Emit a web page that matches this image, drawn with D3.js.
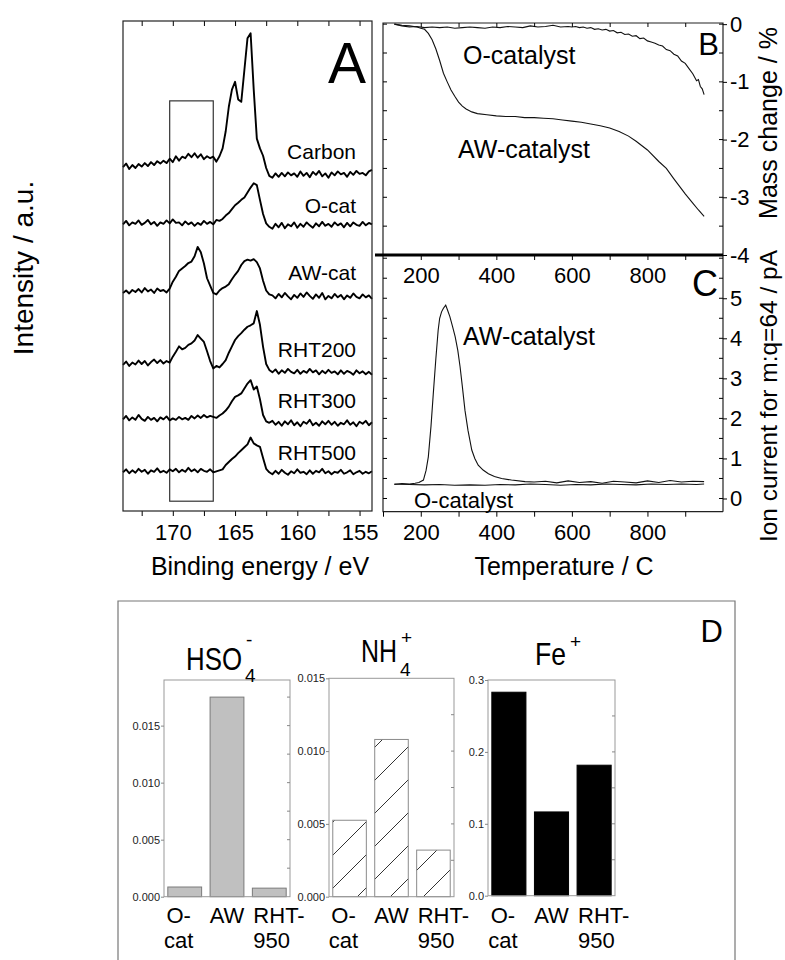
<!DOCTYPE html>
<html>
<head>
<meta charset="utf-8">
<script src="https://cdn.jsdelivr.net/npm/d3@7"></script>
<style>
  body { margin: 0; background: #fff; }
  svg { display: block; }
  text { font-family: "Liberation Sans", Arial, Helvetica, sans-serif; }
</style>
</head>
<body>
<svg id="fig" width="785" height="960"></svg>
<script>
// ---------- Panel A: S 2p XPS spectra (intensity, a.u., stacked) ----------
const energyStart = 174, energyStep = -0.25;   // binding-energy grid, eV
const spectrumNames = ["Carbon", "O-cat", "AW-cat", "RHT200", "RHT300", "RHT500"];
const carbon = [70.2,70.9,69.8,70.6,70.0,70.8,70.3,71.0,70.4,71.2,70.6,71.4,70.9,71.5,71.0,71.9,71.2,72.4,71.5,72.3,72.0,72.9,72.2,73.0,72.1,72.8,71.8,72.4,72.0,72.3,71.3,72.4,74.0,77.5,82.5,86.0,87.6,84.0,83.5,90.0,96.5,97.5,86.0,76.0,74.0,72.5,70.0,68.4,68.0,68.9,68.2,69.0,68.3,69.1,68.5,68.9,68.2,69.3,68.4,69.0,68.1,69.2,68.6,69.4,68.3,68.9,68.0,69.1,68.5,69.3,68.7,69.0,68.2,69.2,68.6,69.4,68.8,69.0,68.5,69.3,69.6];
const oCat = [58.5,59.2,58.3,58.9,58.6,59.3,58.4,58.8,59.4,58.5,59.0,58.2,58.9,58.6,59.3,58.7,59.5,58.8,58.9,58.3,59.1,58.5,58.9,58.2,58.8,58.4,59.2,58.6,59.0,58.5,59.4,59.2,59.6,60.3,60.8,61.6,62.4,62.9,63.5,64.0,65.0,66.0,66.9,66.5,63.5,60.6,58.7,58.0,57.6,58.6,57.9,58.8,57.7,58.5,58.1,58.9,57.8,58.6,58.0,58.9,58.3,57.8,58.7,58.1,59.0,58.2,58.6,58.0,58.9,58.3,58.7,57.9,58.8,58.1,58.9,58.4,58.2,59.0,58.3,58.8,58.5];
const awCat = [44.5,45.0,44.4,45.1,44.7,45.3,44.6,45.5,44.8,45.2,44.5,45.4,44.9,45.1,44.6,45.4,46.8,47.8,49.0,49.5,50.0,50.6,50.9,52.0,53.9,52.8,50.5,47.5,46.0,44.5,44.2,45.0,45.5,45.8,46.3,47.3,48.2,49.0,50.2,51.0,51.3,51.1,51.4,50.8,49.5,47.0,45.0,44.2,44.0,43.4,44.3,43.6,44.5,43.8,43.2,44.1,43.5,44.4,43.7,44.6,43.9,43.3,44.2,43.5,44.5,43.2,43.9,43.4,44.3,43.6,44.1,43.2,44.0,43.5,44.4,43.7,43.4,44.2,43.6,44.0,43.3];
const rht200 = [29.8,30.5,29.6,30.3,29.9,30.7,30.0,30.6,29.7,30.4,30.9,30.2,30.8,30.1,30.6,30.3,31.5,32.5,33.6,33.0,33.3,33.9,34.2,34.8,35.9,35.2,34.5,32.6,30.6,29.1,29.6,29.3,30.0,30.8,32.3,33.6,34.9,35.7,36.3,37.0,37.6,37.9,38.3,40.8,38.0,33.5,30.0,28.8,28.3,28.9,28.0,28.7,28.2,29.0,28.4,28.1,28.8,28.0,28.6,28.2,29.0,28.3,28.7,27.9,28.6,28.1,28.8,28.2,28.5,27.9,28.7,28.0,28.6,28.3,27.8,28.7,28.1,28.5,27.9,28.4,27.8];
const rht300 = [18.7,19.4,18.5,19.1,18.6,19.6,18.8,18.4,19.2,18.6,19.0,18.3,19.1,18.7,19.3,18.5,18.9,18.6,19.2,18.7,19.0,18.6,19.4,18.9,19.5,19.0,19.6,19.1,19.4,19.2,19.0,19.5,19.9,20.5,21.3,22.4,23.3,23.6,24.0,25.0,26.0,26.7,24.8,25.4,22.8,19.6,18.3,18.0,18.4,17.6,18.2,17.4,18.3,17.7,18.5,17.5,18.1,17.3,18.2,17.8,18.6,17.5,18.0,17.4,18.3,17.7,18.4,17.6,18.2,17.4,18.0,17.7,18.5,17.6,18.1,17.3,18.2,17.8,18.4,17.5,18.1];
const rht500 = [7.9,8.5,7.7,8.3,7.8,8.6,8.0,8.4,7.6,8.3,8.0,8.7,7.9,8.2,7.8,8.5,8.1,8.6,7.9,8.4,8.0,8.8,8.1,8.5,7.9,8.6,8.2,8.0,8.5,7.9,8.1,8.3,8.5,9.4,10.0,10.6,11.1,11.8,12.4,13.0,13.6,15.0,13.8,13.4,13.1,10.8,8.6,7.9,7.5,8.2,7.6,8.4,7.8,7.4,8.1,7.7,8.5,7.8,8.0,7.5,8.3,7.6,8.2,7.9,8.6,7.7,8.1,7.5,8.0,7.8,8.4,7.6,7.9,8.3,7.5,7.9,8.2,7.6,8.0,7.7,8.1];
const sulfateWindow = { from: 170.25, to: 166.75, low: 2, high: 83.7 }; // highlighted S 2p(SO4) region
const beTicks = [172.5, 170, 167.5, 165, 162.5, 160, 157.5, 155];

// ---------- Panel B: TGA mass change (%) ----------
const tgaOTemp = [130,150,170,190,210,230,250,270,290,310,330,350,370,390,410,430,450,470,490,510,530,550,570,590,600,610,620,630,640,650,660,670,680,690,700,710,720,730,740,750,760,770,780,790,800,810,820,830,840,850,860,870,880,890,900,910,920,930,935,940,945,950];
const tgaOMass = [0.00,-0.03,-0.05,-0.04,-0.06,-0.05,-0.06,-0.05,-0.07,-0.06,-0.05,-0.06,-0.07,-0.05,-0.06,-0.04,-0.05,-0.06,-0.03,-0.05,-0.04,-0.02,-0.05,-0.04,-0.05,-0.04,-0.06,-0.05,-0.07,-0.06,-0.09,-0.08,-0.10,-0.09,-0.12,-0.11,-0.15,-0.14,-0.18,-0.17,-0.21,-0.20,-0.25,-0.24,-0.29,-0.31,-0.33,-0.36,-0.38,-0.44,-0.46,-0.52,-0.55,-0.64,-0.68,-0.77,-0.86,-0.98,-0.96,-1.08,-1.12,-1.22];
const tgaAWTemp = [130,150,170,190,200,210,220,230,240,250,260,270,280,290,300,310,320,335,350,375,400,425,450,475,500,525,550,575,600,625,650,675,700,725,750,770,800,830,850,870,900,920,935,950];
const tgaAWMass = [0.00,-0.02,-0.03,-0.05,-0.07,-0.09,-0.16,-0.27,-0.43,-0.63,-0.85,-1.00,-1.14,-1.25,-1.35,-1.42,-1.47,-1.52,-1.55,-1.57,-1.59,-1.60,-1.60,-1.62,-1.62,-1.63,-1.64,-1.66,-1.68,-1.70,-1.73,-1.76,-1.80,-1.86,-1.94,-2.03,-2.18,-2.38,-2.50,-2.68,-2.94,-3.10,-3.22,-3.33];
const massTicks = [0, -1, -2, -3, -4];

// ---------- Panel C: MS ion current m/q = 64 (pA) ----------
const msAWTemp = [130,150,170,185,195,207,214,220,227,233,240,246,250,255,260,266,271,277,284,291,298,304,310,317,325,335,343,352,365,379,395,414,440,476,500,530,560,590,620,650,680,710,740,770,800,830,860,890,920,950];
const msAWCurrent = [0.35,0.37,0.36,0.38,0.40,0.46,0.70,1.04,1.80,2.60,3.50,4.20,4.50,4.66,4.75,4.83,4.70,4.54,4.30,4.04,3.70,3.29,2.80,2.20,1.70,1.21,1.00,0.83,0.71,0.62,0.55,0.50,0.46,0.42,0.41,0.43,0.39,0.44,0.40,0.42,0.38,0.43,0.41,0.39,0.44,0.40,0.45,0.41,0.43,0.42];
const msOTemp = [130,170,210,250,290,330,370,410,450,490,530,570,610,650,690,730,770,810,850,890,930,950];
const msOCurrent = [0.36,0.35,0.34,0.35,0.33,0.34,0.33,0.35,0.34,0.36,0.35,0.33,0.35,0.34,0.36,0.35,0.34,0.36,0.35,0.36,0.35,0.36];
const currentTicks = [0, 1, 2, 3, 4, 5];
const tempTicks = [200, 400, 600, 800];

// ---------- Panel D: ion yields by sample ----------
const samples = ["O-cat", "AW", "RHT-950"];
const sampleLines = [["O-", "cat"], ["AW"], ["RHT-", "950"]];
const hso4Values = [0.00085, 0.0175, 0.00075];
const nh4Values = [0.00525, 0.0108, 0.0032];
const feValues = [0.283, 0.1165, 0.1815];
const hso4Ticks = [0, 0.005, 0.010, 0.015];
const nh4Ticks = [0, 0.005, 0.010, 0.015];
const feTicks = [0, 0.1, 0.2, 0.3];

// ======================================================================
const svg = d3.select("#fig");
const FONT = '"Liberation Sans", Arial, Helvetica, sans-serif';

function styleAxis(g, size) {
  g.attr("font-family", FONT).attr("font-size", size);
  g.select(".domain").remove();
  g.selectAll(".tick line").attr("stroke", "#000");
  g.selectAll(".tick text").attr("fill", "#000");
}

// ---------------- Panel A ----------------
const xA = d3.scaleLinear().domain([174, 154]).range([123, 372]);
const yA = d3.scaleLinear().domain([0, 100]).range([511, 21]);
const energies = carbon.map((_, i) => energyStart + i * energyStep);
const spectra = [carbon, oCat, awCat, rht200, rht300, rht500];
const labelBaselines = [159, 213, 280, 357, 408, 460];

const gA = svg.append("g");
gA.append("rect")
  .attr("x", xA(sulfateWindow.from)).attr("y", yA(sulfateWindow.high))
  .attr("width", xA(sulfateWindow.to) - xA(sulfateWindow.from))
  .attr("height", yA(sulfateWindow.low) - yA(sulfateWindow.high))
  .attr("fill", "none").attr("stroke", "#333").attr("stroke-width", 1.2);

const lineA = d3.line().x((d, i) => xA(energies[i])).y(d => yA(d));
gA.selectAll("path.spec").data(spectra).join("path")
  .attr("class", "spec")
  .attr("d", lineA)
  .attr("fill", "none").attr("stroke", "#000").attr("stroke-width", 1.9)
  .attr("stroke-linejoin", "round");

gA.selectAll("text.slabel").data(spectrumNames).join("text")
  .attr("class", "slabel")
  .attr("x", 356).attr("y", (d, i) => labelBaselines[i])
  .attr("text-anchor", "end").attr("font-size", 21)
  .text(d => d);

gA.append("g").attr("transform", "translate(0,511)")
  .call(d3.axisBottom(xA).tickValues(beTicks).tickSize(5).tickPadding(8)
    .tickFormat(d => (d % 5 === 0 ? d3.format("d")(d) : "")))
  .call(g => styleAxis(g, 22));
gA.append("g").attr("transform", "translate(0,21)")
  .call(d3.axisBottom(xA).tickValues(beTicks).tickSize(5).tickFormat(""))
  .call(g => styleAxis(g, 10));

gA.append("rect").attr("x", 123).attr("y", 21).attr("width", 249).attr("height", 490)
  .attr("fill", "none").attr("stroke", "#222").attr("stroke-width", 1.2);

gA.append("text").attr("x", 366).attr("y", 83).attr("text-anchor", "end")
  .attr("font-size", 57).text("A");
gA.append("text").attr("x", 260).attr("y", 575).attr("text-anchor", "middle")
  .attr("font-size", 25).text("Binding energy / eV");
svg.append("text").attr("transform", "translate(33,268) rotate(-90)")
  .attr("text-anchor", "middle").attr("font-size", 28).text("Intensity / a.u.");

// ---------------- Panels B and C ----------------
const xT = d3.scaleLinear().domain([100, 1000]).range([383, 723]);
const yB = d3.scaleLinear().domain([-4, 0.02]).range([255, 23]);
const yC = d3.scaleLinear().domain([-0.33, 6.08]).range([511.7, 255]);

const gB = svg.append("g");
function drawCurve(g, xs, ys, yScale) {
  g.append("path").datum(ys)
    .attr("d", d3.line().x((d, i) => xT(xs[i])).y(d => yScale(d)))
    .attr("fill", "none").attr("stroke", "#111").attr("stroke-width", 1.1);
}
drawCurve(gB, tgaOTemp, tgaOMass, yB);
drawCurve(gB, tgaAWTemp, tgaAWMass, yB);
drawCurve(gB, msAWTemp, msAWCurrent, yC);
drawCurve(gB, msOTemp, msOCurrent, yC);

// B frame: top, left, right
gB.append("path").attr("d", `M${xT(100)},255V23H${xT(1000)}V511.7`)
  .attr("fill", "none").attr("stroke", "#222").attr("stroke-width", 1.2);
// C frame: left, bottom
gB.append("path").attr("d", `M${xT(100)},255V511.7H${xT(1000)}`)
  .attr("fill", "none").attr("stroke", "#222").attr("stroke-width", 1.2);
// heavy divider shared by B and C
gB.append("line").attr("x1", 375).attr("x2", xT(1000)).attr("y1", 255).attr("y2", 255)
  .attr("stroke", "#000").attr("stroke-width", 3);

const tempMinor = d3.range(100, 1001, 100);
gB.append("g").attr("transform", "translate(0,23)")
  .call(d3.axisBottom(xT).tickValues(tempMinor.slice(1, -1)).tickSize(4).tickFormat(""))
  .call(g => styleAxis(g, 10));
gB.append("g").attr("transform", "translate(0,255)")
  .call(d3.axisBottom(xT).tickValues(tempMinor.slice(1, -1)).tickSize(5).tickPadding(7)
    .tickFormat(d => (tempTicks.includes(d) ? d : "")))
  .call(g => styleAxis(g, 22));
gB.append("g").attr("transform", "translate(0,511.7)")
  .call(d3.axisBottom(xT).tickValues(tempMinor.slice(0, -1)).tickSize(5).tickPadding(8)
    .tickFormat(d => (tempTicks.includes(d) ? d : "")))
  .call(g => styleAxis(g, 22));

gB.append("g").attr("transform", `translate(${xT(1000)},0)`)
  .call(d3.axisRight(yB).tickValues(massTicks).tickSize(4).tickPadding(3).tickFormat(d => String(d)))
  .call(g => styleAxis(g, 22));
gB.append("g").attr("transform", `translate(${xT(1000)},0)`)
  .call(d3.axisRight(yC).tickValues(currentTicks).tickSize(4).tickPadding(3).tickFormat(d => String(d)))
  .call(g => styleAxis(g, 22));
const massHalf = d3.range(-3.5, 0.01, 0.5);
const currHalf = d3.range(0, 6.01, 0.5);
[xT(100), xT(1000)].forEach((x, k) => {
  const dir = k === 0 ? 4 : -4;
  gB.append("g").selectAll("line").data(massHalf).join("line")
    .attr("x1", x).attr("x2", x + dir).attr("y1", d => yB(d)).attr("y2", d => yB(d))
    .attr("stroke", "#000");
  gB.append("g").selectAll("line").data(currHalf).join("line")
    .attr("x1", x).attr("x2", x + dir).attr("y1", d => yC(d)).attr("y2", d => yC(d))
    .attr("stroke", "#000");
});

gB.append("text").attr("x", 463).attr("y", 64).attr("font-size", 25).text("O-catalyst");
gB.append("text").attr("x", 458).attr("y", 158).attr("font-size", 25).text("AW-catalyst");
gB.append("text").attr("x", 463).attr("y", 345).attr("font-size", 25).text("AW-catalyst");
gB.append("text").attr("x", 414).attr("y", 508).attr("font-size", 22).text("O-catalyst");
gB.append("text").attr("x", 719).attr("y", 55).attr("text-anchor", "end").attr("font-size", 31).text("B");
gB.append("text").attr("x", 718).attr("y", 296).attr("text-anchor", "end").attr("font-size", 36).text("C");
gB.append("text").attr("x", 564).attr("y", 575).attr("text-anchor", "middle")
  .attr("font-size", 25).text("Temperature / C");
svg.append("text").attr("transform", "translate(777,123) rotate(-90)")
  .attr("text-anchor", "middle").attr("font-size", 25).text("Mass change / %");
svg.append("text").attr("transform", "translate(777,396) rotate(-90)")
  .attr("text-anchor", "middle").attr("font-size", 24.5).text("Ion current for m:q=64 / pA");

// ---------------- Panel D ----------------
svg.append("path").attr("d", "M118,970V601H735V970")
  .attr("fill", "none").attr("stroke", "#777").attr("stroke-width", 1.2);
svg.append("text").attr("x", 723).attr("y", 642).attr("text-anchor", "end")
  .attr("font-size", 31).text("D");

const defs = svg.append("defs");
const hatch = defs.append("pattern").attr("id", "hatch")
  .attr("patternUnits", "userSpaceOnUse").attr("width", 33).attr("height", 33);
hatch.append("rect").attr("width", 33).attr("height", 33).attr("fill", "#fff");
hatch.append("path").attr("d", "M0,33L33,0M-8,8L8,-8M25,41L41,25")
  .attr("stroke", "#333").attr("stroke-width", 1);

const barPanels = [
  { values: hso4Values, ticks: hso4Ticks, max: 0.019, fmt: ".3f", x0: 164, x1: 290, top: 680, bottom: 896.7,
    fill: "#c0c0c0", stroke: "#7a7a7a",
    title: { main: "HSO", mainW: 56, x: 186, y: 670, sub: "4", sup: "-", scriptX: 245, subY: 682, supY: 646 } },
  { values: nh4Values, ticks: nh4Ticks, max: 0.015, fmt: ".3f", x0: 329, x1: 454, top: 678.3, bottom: 896.7,
    fill: "url(#hatch)", stroke: "#8a8a8a",
    title: { main: "NH", mainW: 36, x: 361, y: 662, sub: "4", sup: "+", scriptX: 400, subY: 676, supY: 644 } },
  { values: feValues, ticks: feTicks, max: 0.3, fmt: ".1f", x0: 488, x1: 615, top: 680, bottom: 895.7,
    fill: "#000", stroke: "#000",
    title: { main: "Fe", mainW: 31, x: 535, y: 665, sub: "", sup: "+", scriptX: 569, subY: 676, supY: 648 } }
];
// horizontal alignment of the two-line sample names under each bar
const nameAnchor = ["middle", "middle", "start"];
const nameShift = [-6, 0, 1];

barPanels.forEach(p => {
  const g = svg.append("g");
  const x = d3.scaleBand().domain(samples).range([p.x0, p.x1]).paddingInner(0.2).paddingOuter(0.09);
  const y = d3.scaleLinear().domain([0, p.max]).range([p.bottom, p.top]);

  g.selectAll("rect.bar").data(p.values).join("rect").attr("class", "bar")
    .attr("x", (d, i) => x(samples[i])).attr("width", x.bandwidth())
    .attr("y", d => y(d)).attr("height", d => y(0) - y(d))
    .attr("fill", p.fill).attr("stroke", p.stroke).attr("stroke-width", 1);

  g.append("rect").attr("x", p.x0).attr("y", p.top)
    .attr("width", p.x1 - p.x0).attr("height", p.bottom - p.top)
    .attr("fill", "none").attr("stroke", "#999").attr("stroke-width", 1);

  g.append("g").attr("transform", `translate(${p.x0},0)`)
    .call(d3.axisLeft(y).tickValues(p.ticks).tickSize(3).tickPadding(1).tickFormat(d3.format(p.fmt)))
    .call(ax => styleAxis(ax, 11))
    .call(ax => ax.selectAll(".tick text").attr("fill", "#222"))
    .call(ax => ax.selectAll(".tick line").attr("stroke", "#888"));
  const halfStep = p.ticks[1] / 2;
  g.append("g").selectAll("line").data(d3.range(halfStep, p.max, halfStep)).join("line")
    .attr("x1", p.x1).attr("x2", p.x1 - 3).attr("y1", d => y(d)).attr("y2", d => y(d))
    .attr("stroke", "#888");

  sampleLines.forEach((lines, i) => {
    const bx = x(samples[i]);
    const ax = nameAnchor[i] === "start" ? bx + nameShift[i] : bx + x.bandwidth() / 2 + nameShift[i];
    lines.forEach((t, j) => {
      g.append("text").attr("x", ax).attr("y", 923 + j * 25)
        .attr("text-anchor", nameAnchor[i]).attr("font-size", 22).text(t);
    });
  });

  // narrow title: scale the glyphs horizontally to the measured width
  const t = p.title;
  const main = g.append("text").attr("font-size", 32).text(t.main);
  const natural = main.node().getComputedTextLength();
  main.attr("transform", `translate(${t.x},${t.y}) scale(${t.mainW / natural},1)`);
  if (t.sub) g.append("text").attr("x", t.scriptX).attr("y", t.subY).attr("font-size", 19).text(t.sub);
  g.append("text").attr("x", t.scriptX + 1).attr("y", t.supY).attr("font-size", 19).text(t.sup);
});
</script>
</body>
</html>
